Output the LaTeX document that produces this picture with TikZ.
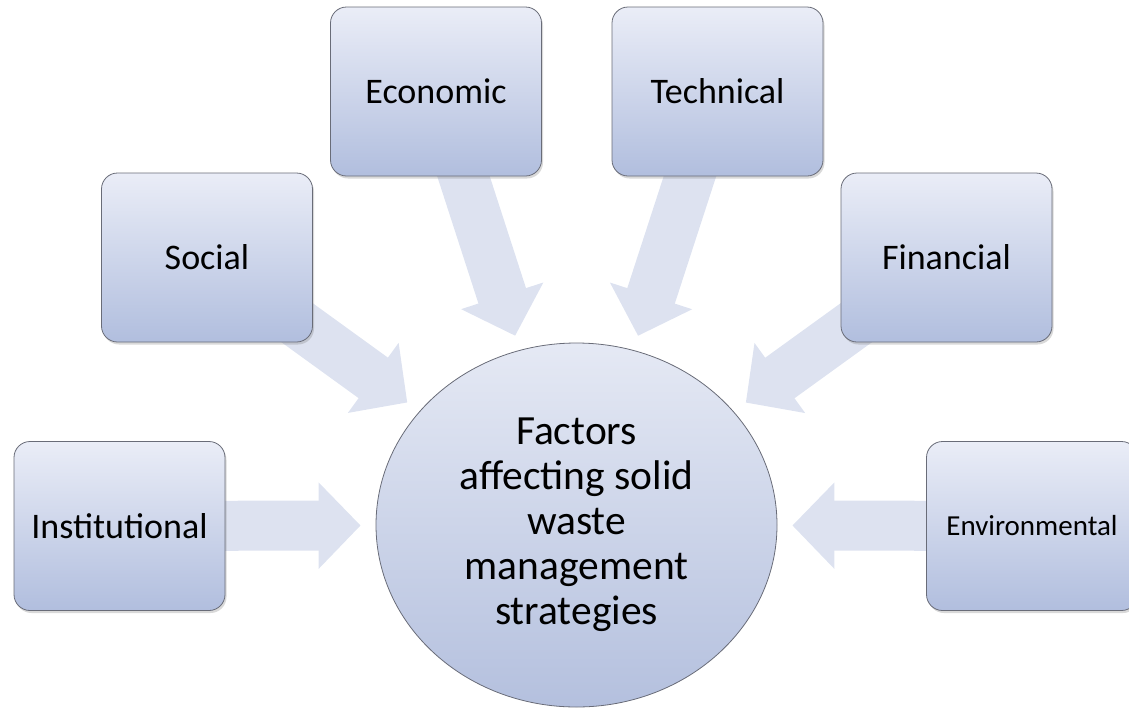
\documentclass[tikz,border=0pt]{standalone}
\usepackage{fontspec}
\setmainfont{Carlito}
\usepackage{tikz}
\usetikzlibrary{arrows.meta}
\usetikzlibrary{shapes.geometric, shadows, backgrounds}

\definecolor{boxtop}{RGB}{234,237,247}
\definecolor{boxbot}{RGB}{177,190,222}
\definecolor{hubtop}{RGB}{229,233,244}
\definecolor{hubbot}{RGB}{180,192,222}
\definecolor{edgegray}{RGB}{105,108,120}
\definecolor{arrowcol}{RGB}{221,226,240}

\begin{document}
\begin{tikzpicture}[x=1pt, y=-1pt,
    factor/.style={draw=edgegray, line width=0.8pt, rounded corners=16pt,
        top color=boxtop, bottom color=boxbot,
        minimum width=211pt, minimum height=169pt, inner sep=0pt,
        font=\fontsize{36}{43}\selectfont,
        drop shadow={shadow xshift=1.5pt, shadow yshift=-2.5pt, opacity=0.3}},
    hub/.style={draw=edgegray, line width=0.8pt, ellipse,
        top color=hubtop, bottom color=hubbot,
        minimum width=401pt, minimum height=364pt, inner sep=0pt,
        align=center, font=\fontsize{41.5}{45}\selectfont},
    bigarrow/.style={draw=arrowcol, line width=50pt,
        -{Triangle[width=84pt, length=42pt]}, shorten >=15pt}]
    \useasboundingbox (0,0) rectangle (1129,710);

    % factor boxes
    \draw (119.5,526) node[factor]                 (inst) {Institutional};
    \draw (207,257.5) node[factor]                 (soc)  {Social};
    \draw (436,91.5) node[factor]                  (econ) {Economic};
    \draw (717.5,91.5) node[factor]                (tech) {Technical};
    \draw (946.5,257.5) node[factor]               (fin)  {Financial};
    \draw (1032,526) node[factor, font=\fontsize{29}{35}\selectfont] (env) {Environmental};

    % centre
    \draw (576.5,525) node[hub] (hub) {Factors\\affecting solid\\waste\\management\\strategies};

    \begin{scope}[on background layer]
        \draw[bigarrow] (inst.center) -- (hub);
        \draw[bigarrow] (soc.center) -- (hub);
        \draw[bigarrow] (econ.center) -- (hub);
        \draw[bigarrow] (tech.center) -- (hub);
        \draw[bigarrow] (fin.center) -- (hub);
        \draw[bigarrow] (env.center) -- (hub);
    \end{scope}

\end{tikzpicture}
\end{document}
